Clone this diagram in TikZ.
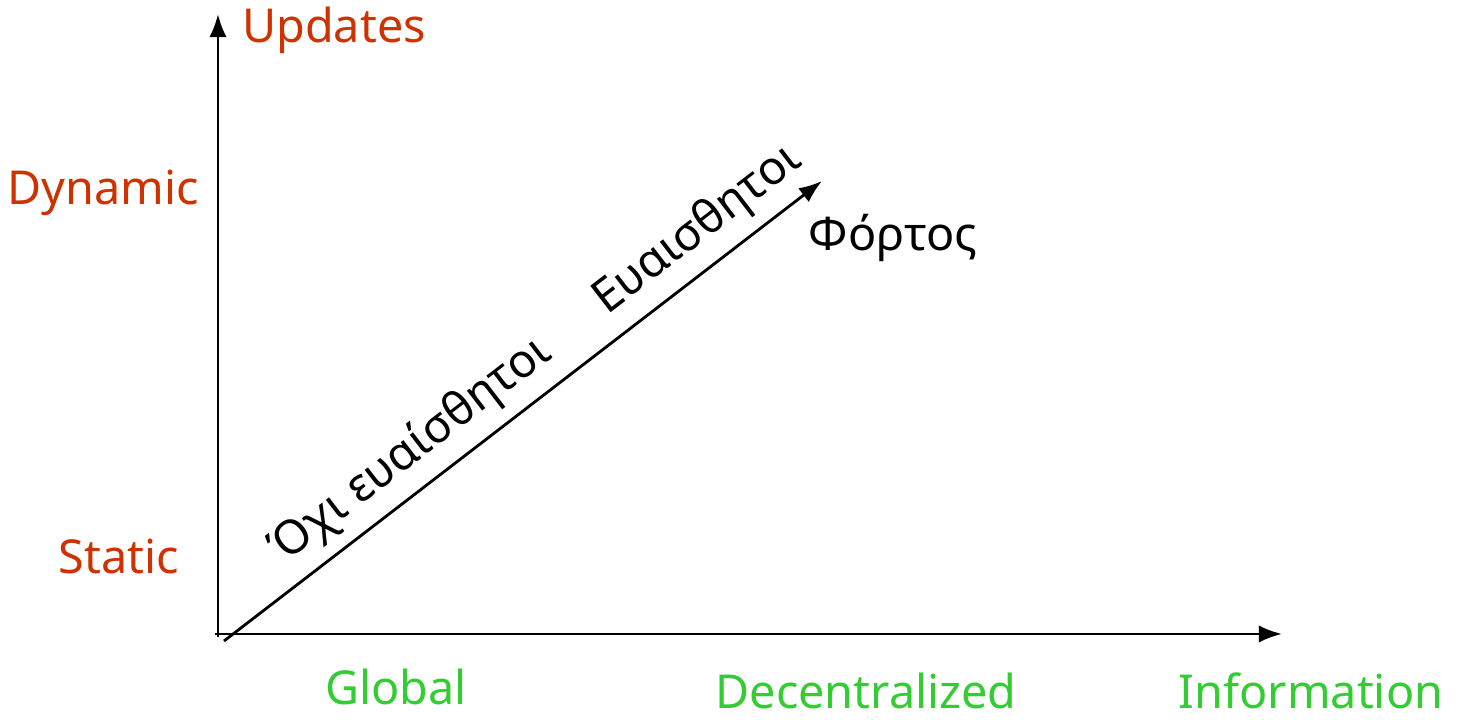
\documentclass[tikz,border=0pt]{standalone}
\usepackage{fontspec}
\setmainfont{Noto Sans}
\usetikzlibrary{arrows.meta,positioning}
\definecolor{updred}{RGB}{204,51,0}
\definecolor{infogreen}{RGB}{51,204,51}
\begin{document}
\begin{tikzpicture}[x=1.0cm,y=1.0cm]
  \tikzstyle{ylab}=[text=updred,font=\fontsize{13.3}{15}\selectfont]
  \tikzstyle{xlab}=[text=infogreen,font=\fontsize{13.3}{15}\selectfont]
  \tikzstyle{glab}=[font=\fontsize{13.3}{15}\selectfont]
  \useasboundingbox (0,0) rectangle (14.6,7.2);

  \coordinate (o) at (2.18,0.83);
  \coordinate (ytip) at (2.18,7.06);
  \coordinate (xo) at (2.15,0.86);
  \coordinate (xtip) at (12.82,0.86);
  \coordinate (ds) at (2.24,0.79);
  \coordinate (dtip) at (8.22,5.39);

  \draw[-Latex,thick] (o) -- (ytip);
  \draw[-Latex,thick] (xo) -- (xtip);
  \draw[-Latex,thick] (ds) --
    node[pos=0.35,sloped,above,glab] (ns) {Όχι ευαίσθητοι}
    node[pos=0.83,sloped,above,glab] (s) {Ευαισθητοι} (dtip);

  \node[ylab] (upd) at (3.34,6.90) {Updates};
  \node[ylab] (dyn) at (1.03,5.27) {Dynamic};
  \node[ylab] (sta) at (1.19,1.63) {Static};

  \node[xlab] (glo) at (3.96,0.33) {Global};
  \node[xlab] (dec) at (8.66,0.29) {Decentralized};
  \node[xlab] (inf) at (13.11,0.29) {Information};

  \node[glab] (load) at (8.93,4.82) {Φόρτος};
\end{tikzpicture}
\end{document}
